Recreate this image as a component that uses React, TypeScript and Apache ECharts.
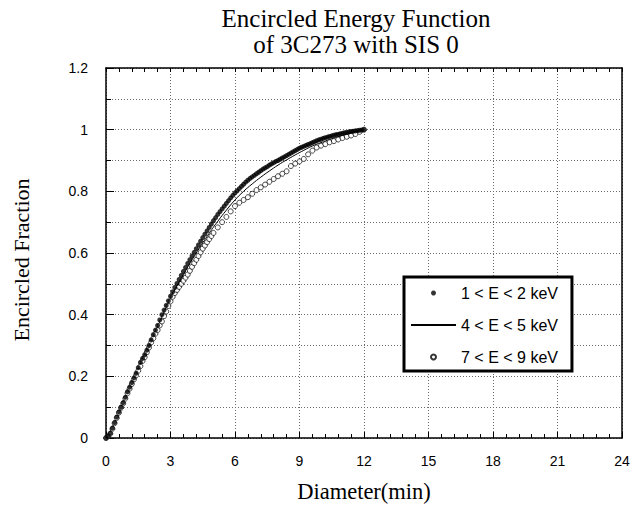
import React, { useEffect, useRef } from "react";
import * as echarts from "echarts";

// Chart texts
const TITLE_LINES = ["Encircled Energy Function", "of 3C273 with SIS 0"];
const X_NAME = "Diameter(min)";
const Y_NAME = "Encircled Fraction";
const SERIES_NAMES = ["1 < E < 2 keV", "4 < E < 5 keV", "7 < E < 9 keV"];

// 1 < E < 2 keV : diameter (arcmin) and encircled fraction
const lowDiameter = [
  0, 0.1, 0.2, 0.3, 0.4, 0.5, 0.6, 0.7, 0.8, 0.9,
  1.0, 1.1, 1.2, 1.3, 1.4, 1.5, 1.6, 1.7, 1.8, 1.9,
  2.0, 2.1, 2.2, 2.3, 2.4, 2.5, 2.6, 2.7, 2.8, 2.9,
  3.0, 3.1, 3.2, 3.3, 3.4, 3.5, 3.6, 3.7, 3.8, 3.9,
  4.0, 4.1, 4.2, 4.3, 4.4, 4.5, 4.6, 4.7, 4.8, 4.9,
  5.0, 5.1, 5.2, 5.3, 5.4, 5.5, 5.6, 5.7, 5.8, 5.9,
  6.0, 6.1, 6.2, 6.3, 6.4, 6.5, 6.6, 6.7, 6.8, 6.9,
  7.0, 7.1, 7.2, 7.3, 7.4, 7.5, 7.6, 7.7, 7.8, 7.9,
  8.0, 8.1, 8.2, 8.3, 8.4, 8.5, 8.6, 8.7, 8.8, 8.9,
  9.0, 9.1, 9.2, 9.3, 9.4, 9.5, 9.6, 9.7, 9.8, 9.9,
  10.0, 10.1, 10.2, 10.3, 10.4, 10.5, 10.6, 10.7, 10.8, 10.9,
  11.0, 11.1, 11.2, 11.3, 11.4, 11.5, 11.6, 11.7, 11.8, 11.9,
  12.0,
];
const lowFraction = [
  0, 0.006, 0.015, 0.032, 0.05, 0.068, 0.085, 0.1, 0.115, 0.132,
  0.15, 0.165, 0.18, 0.195, 0.21, 0.228, 0.245, 0.258, 0.27, 0.285,
  0.3, 0.318, 0.335, 0.35, 0.365, 0.383, 0.4, 0.415, 0.43, 0.445,
  0.46, 0.474, 0.488, 0.501, 0.514, 0.527, 0.54, 0.553, 0.566, 0.578,
  0.59, 0.602, 0.614, 0.626, 0.638, 0.65, 0.661, 0.672, 0.683, 0.694,
  0.705, 0.715, 0.725, 0.734, 0.743, 0.752, 0.761, 0.77, 0.779, 0.787,
  0.795, 0.802, 0.809, 0.816, 0.823, 0.83, 0.836, 0.842, 0.847, 0.852,
  0.857, 0.862, 0.867, 0.872, 0.876, 0.88, 0.885, 0.889, 0.893, 0.897,
  0.9, 0.904, 0.908, 0.912, 0.916, 0.92, 0.924, 0.928, 0.932, 0.936,
  0.94, 0.943, 0.946, 0.949, 0.952, 0.955, 0.958, 0.961, 0.964, 0.967,
  0.969, 0.972, 0.974, 0.976, 0.978, 0.98, 0.982, 0.984, 0.985, 0.987,
  0.988, 0.99, 0.991, 0.993, 0.994, 0.995, 0.996, 0.997, 0.998, 0.999,
  1.0,
];

// 4 < E < 5 keV
const midDiameter = [
  0, 0.4, 0.8, 1.2, 1.6, 2.0, 2.4, 2.8, 3.2, 3.6,
  4.0, 4.4, 4.8, 5.2, 5.6, 6.0, 6.4, 6.8, 7.2, 7.6,
  8.0, 8.4, 8.8, 9.2, 9.6, 10.0, 10.4, 10.8, 11.2, 11.6, 12.0,
];
const midFraction = [
  0, 0.05, 0.114, 0.178, 0.24, 0.298, 0.36, 0.423, 0.48, 0.53,
  0.578, 0.622, 0.664, 0.703, 0.739, 0.772, 0.8, 0.824, 0.846, 0.866,
  0.885, 0.902, 0.918, 0.933, 0.947, 0.958, 0.968, 0.977, 0.985, 0.993, 1.0,
];

// 7 < E < 9 keV
const highDiameter = [
  0, 0.1, 0.2, 0.3, 0.4, 0.5, 0.6, 0.7, 0.8, 0.9,
  1.0, 1.1, 1.2, 1.3, 1.4, 1.5, 1.6, 1.7, 1.8, 1.9,
  2.0, 2.1, 2.2, 2.3, 2.4, 2.5, 2.6, 2.7, 2.8, 2.9,
  3.0, 3.1, 3.2, 3.3, 3.4, 3.5, 3.6, 3.7, 3.8, 3.9,
  4.0, 4.1, 4.2, 4.3, 4.4, 4.5, 4.6, 4.7, 4.8, 4.9,
  5.0, 5.2, 5.4, 5.6, 5.8, 6.0, 6.2, 6.4, 6.6, 6.8,
  7.0, 7.2, 7.4, 7.6, 7.8, 8.0, 8.2, 8.4, 8.6, 8.8,
  9.0, 9.2, 9.4, 9.6, 9.8, 10.0, 10.2, 10.4, 10.6, 10.8,
  11.0, 11.2, 11.4, 11.6, 11.8, 12.0,
];
const highFraction = [
  0, 0.005, 0.014, 0.03, 0.048, 0.065, 0.082, 0.098, 0.112, 0.128,
  0.145, 0.16, 0.175, 0.19, 0.203, 0.218, 0.233, 0.25, 0.262, 0.278,
  0.293, 0.31, 0.323, 0.338, 0.35, 0.365, 0.378, 0.395, 0.41, 0.428,
  0.443, 0.458, 0.47, 0.48, 0.49, 0.5, 0.51, 0.52, 0.53, 0.542,
  0.555, 0.567, 0.578, 0.59, 0.602, 0.614, 0.624, 0.635, 0.645, 0.655,
  0.665, 0.683, 0.7, 0.717, 0.735, 0.752, 0.763, 0.772, 0.781, 0.792,
  0.804, 0.813, 0.822, 0.831, 0.84, 0.849, 0.857, 0.865, 0.882, 0.89,
  0.897, 0.905, 0.92, 0.932, 0.942, 0.948, 0.953, 0.959, 0.963, 0.968,
  0.973, 0.977, 0.981, 0.986, 0.993, 1.0,
];

const pairs = (xs: number[], ys: number[]) => xs.map((x, i) => [x, ys[i]]);

const SERIF = "'Liberation Serif', 'Times New Roman', serif";
const SANS = "'Liberation Sans', Arial, sans-serif";

export default function App() {
  const ref = useRef<HTMLDivElement>(null);

  useEffect(() => {
    document.body.style.margin = "0";
    const chart = echarts.init(ref.current!, null, { renderer: "svg" });

    const dotted = { color: "#6a6a6a", width: 1, type: [1, 2] };
    const axisLine = { show: true, onZero: false, lineStyle: { color: "#000", width: 1.5 } };
    const hidden = "rgba(0,0,0,0)";
    const titleText = {
      fontFamily: SERIF,
      fontSize: 25,
      lineHeight: 25,
      fontWeight: "normal",
      color: "#000",
    };

    chart.setOption({
      animation: false,
      backgroundColor: "#fff",
      title: [
        { text: TITLE_LINES[0], left: 356, top: 6, padding: 0, textAlign: "center", textStyle: titleText },
        { text: TITLE_LINES[1], left: 356, top: 32, padding: 0, textAlign: "center", textStyle: titleText },
      ],
      grid: { left: 106, right: 14, top: 68, bottom: 67, outerBoundsMode: "none" },
      legend: {
        orient: "vertical",
        left: 404,
        top: 277,
        padding: [8, 14, 6, 6],
        itemWidth: 45,
        itemHeight: 5,
        itemGap: 16,
        selectedMode: false,
        borderColor: "#000",
        borderWidth: 3,
        backgroundColor: "#fff",
        data: [
          { name: SERIES_NAMES[0] },
          { name: SERIES_NAMES[1], itemStyle: { color: hidden, borderColor: hidden, opacity: 0 } },
          { name: SERIES_NAMES[2] },
        ],
        textStyle: { fontFamily: SANS, fontSize: 16, color: "#000" },
      },
      xAxis: [
        {
          type: "value",
          position: "bottom",
          min: 0,
          max: 24,
          interval: 3,
          name: X_NAME,
          nameLocation: "middle",
          nameGap: 42,
          nameTextStyle: { fontFamily: SERIF, fontSize: 22.5, lineHeight: 23, color: "#000" },
          axisLine,
          axisTick: { show: true, inside: true, length: 6, lineStyle: { color: "#000", width: 1 } },
          minorTick: { show: true, splitNumber: 5, length: 4, lineStyle: { color: "#000", width: 1 } },
          splitLine: { show: true, lineStyle: dotted },
          axisLabel: { fontFamily: SANS, fontSize: 14, color: "#000", margin: 16 },
        },
        {
          type: "value",
          position: "top",
          min: 0,
          max: 24,
          interval: 3,
          axisLine,
          axisTick: { show: true, inside: true, length: 4, lineStyle: { color: "#000", width: 1 } },
          minorTick: { show: true, splitNumber: 5, length: 4, lineStyle: { color: "#000", width: 1 } },
          splitLine: { show: false },
          axisLabel: { show: false },
        },
      ],
      yAxis: [
        {
          type: "value",
          position: "left",
          min: 0,
          max: 1.2,
          interval: 0.2,
          name: Y_NAME,
          nameLocation: "middle",
          nameGap: 74,
          nameRotate: 90,
          nameTextStyle: { fontFamily: SERIF, fontSize: 22, color: "#000", padding: [0, 14, 0, 0] },
          axisLine,
          axisTick: { show: true, inside: true, length: 8, lineStyle: { color: "#000", width: 1 } },
          minorTick: { show: true, splitNumber: 2, length: 5, lineStyle: { color: "#000", width: 1 } },
          splitLine: { show: true, lineStyle: dotted },
          minorSplitLine: { show: true, lineStyle: dotted },
          axisLabel: { fontFamily: SANS, fontSize: 14, color: "#000", margin: 18 },
        },
        {
          type: "value",
          position: "right",
          min: 0,
          max: 1.2,
          interval: 0.2,
          axisLine,
          axisTick: { show: false },
          splitLine: { show: false },
          axisLabel: { show: false },
        },
      ],
      series: [
        {
          name: SERIES_NAMES[0],
          type: "scatter",
          xAxisIndex: 0,
          yAxisIndex: 0,
          symbol: "circle",
          symbolSize: 5,
          itemStyle: { color: "#000" },
          data: pairs(lowDiameter, lowFraction),
          z: 4,
        },
        {
          name: SERIES_NAMES[1],
          type: "line",
          xAxisIndex: 0,
          yAxisIndex: 0,
          symbol: "none",
          smooth: true,
          lineStyle: { color: "#000", width: 1 },
          itemStyle: { color: "#000" },
          data: pairs(midDiameter, midFraction),
          z: 3,
        },
        {
          name: SERIES_NAMES[2],
          type: "scatter",
          xAxisIndex: 0,
          yAxisIndex: 0,
          symbol: "circle",
          symbolSize: 5,
          itemStyle: { color: "#fff", borderColor: "#000", borderWidth: 0.9 },
          data: pairs(highDiameter, highFraction),
          z: 3,
        },
      ],
    });

    return () => chart.dispose();
  }, []);

  return <div ref={ref} style={{ width: 636, height: 505 }} />;
}
